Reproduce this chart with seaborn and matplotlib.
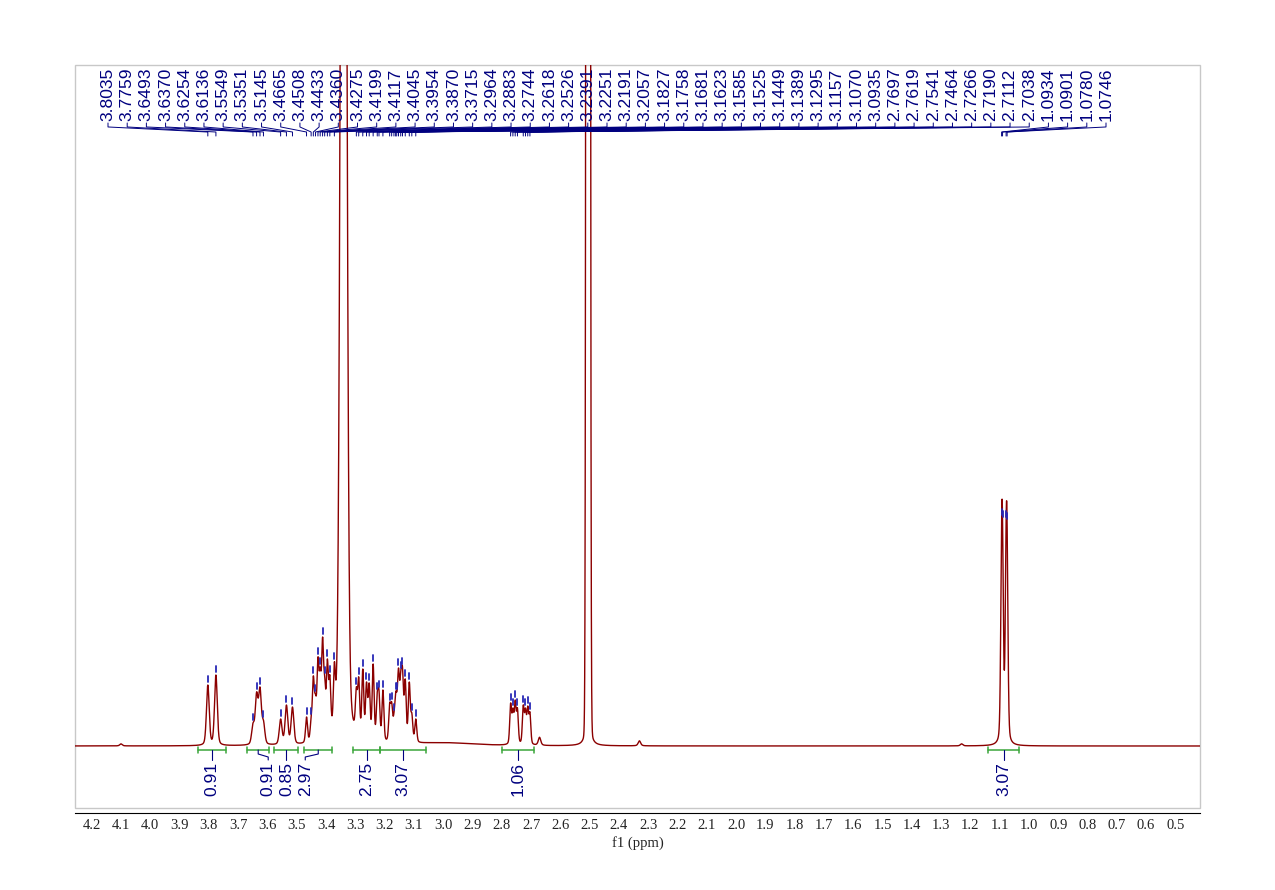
import numpy as np
import matplotlib
matplotlib.use("Agg")
import matplotlib.pyplot as plt
import matplotlib.transforms as mtransforms
from matplotlib.ticker import MultipleLocator, FuncFormatter
from matplotlib.patches import Rectangle
import seaborn as sns

sns.set_theme(style="white")
plt.rcParams["font.family"] = ["Liberation Sans", "DejaVu Sans"]

# picos marcados (ppm) e altura aparente acima da linha de base
pick_ppm = [3.8035, 3.7759, 3.6493, 3.6370, 3.6254, 3.6136, 3.5549, 3.5351, 3.5145,
            3.4665, 3.4508, 3.4433, 3.4360, 3.4275, 3.4199, 3.4117, 3.4045, 3.3954,
            3.3870, 3.3715, 3.2964, 3.2883, 3.2744, 3.2618, 3.2526, 3.2391, 3.2251,
            3.2191, 3.2057, 3.1827, 3.1758, 3.1681, 3.1623, 3.1585, 3.1525, 3.1449,
            3.1389, 3.1295, 3.1157, 3.1070, 3.0935, 2.7697, 2.7619, 2.7541, 2.7464,
            2.7266, 2.7190, 2.7112, 2.7038, 1.0934, 1.0901, 1.0780, 1.0746]
pick_height = [61, 71, 23, 54, 59, 26, 27, 41, 39,
               29, 29, 70, 52, 89, 79, 109, 70, 87,
               71, 84, 59, 69, 77, 64, 63, 82, 54,
               56, 56, 43, 44, 33, 54, 54, 78, 75,
               79, 67, 64, 33, 27, 43, 38, 46, 38,
               41, 38, 40, 34, 228, 226, 226, 224]

# solventes (agua e DMSO), fora de escala
solvent_ppm = [3.340, 2.505]
solvent_height = [1800, 12000]
solvent_fwhm = [0.020, 0.0085]
solvent_eta = [0.15, 0.01]

# pequenos sinais sem marcação
minor_ppm = [4.10, 2.671, 2.330, 1.23, 3.00]
minor_height = [2, 8, 5, 2, 3]
minor_fwhm = [0.010, 0.010, 0.010, 0.010, 0.25]

# integrais
int_start = [3.837, 3.670, 3.576, 3.475, 3.307, 3.215, 2.798, 1.139]
int_end = [3.741, 3.593, 3.494, 3.378, 3.215, 3.058, 2.690, 1.033]
int_value = ["0.91", "0.91", "0.85", "2.97", "2.75", "3.07", "1.06", "3.07"]
int_shift = [0, 10, 0, -13, 0, 0, 0, 0]  # deslocamento do rótulo em px


def pv(x, x0, h, fwhm, eta):
    g = fwhm / 2
    s = fwhm / 2.3548
    d = x - x0
    return h * (eta * g**2 / (d**2 + g**2) + (1 - eta) * np.exp(-d**2 / (2 * s**2)))


ppm = np.linspace(4.26, 0.41, 24000)
pick = np.array(pick_ppm)
# largura de linha por região
widths = np.select([pick > 3.5, pick > 3.0, pick > 2.0], [0.011, 0.0078, 0.0072], 0.0078)
eta_pick = 0.3


def background(x):
    b = np.zeros_like(x, dtype=float)
    for p, h, w, e in zip(solvent_ppm, solvent_height, solvent_fwhm, solvent_eta):
        b += pv(x, p, h, w, e)
    for p, h, w in zip(minor_ppm, minor_height, minor_fwhm):
        b += pv(x, p, h, w, 0.5)
    return b


# amplitudes (não negativas) para que a curva passe pelas alturas lidas
M = np.array([[pv(pi, pj, 1.0, wj, eta_pick) for pj, wj in zip(pick, widths)] for pi in pick])
target = np.clip(np.array(pick_height) - background(pick), 1, None)
amp = target.copy()
for _ in range(400):
    amp *= target / (M @ amp)

spec = background(ppm)
for p, a, w in zip(pick, amp, widths):
    spec += pv(ppm, p, a, w, eta_pick)

fig = plt.figure(figsize=(12.75, 8.9), dpi=100)
ax = fig.add_axes([75 / 1275, 82 / 890, 1125 / 1275, 743 / 890])
sns.lineplot(x=ppm, y=spec, color="#8b0000", lw=1.0, sort=False, estimator=None, ax=ax)
xlim = (4.257, 0.416)
ax.set_xlim(*xlim)
ax.set_ylim(-62, 681)
px_per_ppm = 1125 / (xlim[0] - xlim[1])

navy = "#00007f"
green = "#3aa63a"

# marcas dos picos
yp = np.interp(pick, ppm[::-1], spec[::-1])
for p, v in zip(pick, yp):
    ax.plot([p, p], [v + 3, v + 9], color="#2727b5", lw=1.3)

# rótulos dos picos no topo
trans = mtransforms.blended_transform_factory(ax.transData, ax.transAxes)
fr = np.linspace((108 - 75) / 1125, (1106 - 75) / 1125, len(pick_ppm))
lab_x = xlim[0] + fr * (xlim[1] - xlim[0])
for lx, p in zip(lab_x, pick_ppm):
    ax.text(lx, 0.924, f"{p:.4f}", rotation=90, ha="center", va="bottom",
            fontsize=12.6, color=navy, transform=trans)
    ax.plot([lx, lx, p, p], [0.922, 0.9166, 0.9098, 0.9044], color=navy, lw=0.7,
            transform=trans, clip_on=False)

# integrais
for a, b, val, sh in zip(int_start, int_end, int_value, int_shift):
    mid = (a + b) / 2
    lx = mid - sh / px_per_ppm
    ax.plot([a, b], [-4, -4], color=green, lw=1.1)
    ax.plot([a, a], [-1, -7], color=green, lw=1.1)
    ax.plot([b, b], [-1, -7], color=green, lw=1.1)
    ax.plot([mid, mid, lx, lx], [-4, -8, -11, -14], color=navy, lw=0.8)
    ax.text(lx, -16, val, rotation=90, ha="center", va="top", fontsize=12.6, color=navy)

# moldura e eixo
for s in ax.spines.values():
    s.set_visible(False)
ax.add_patch(Rectangle((0, 0), 1, 1, transform=ax.transAxes, fill=False,
                       ec="#c8c8c8", lw=1, clip_on=False))
ax.spines["bottom"].set_visible(True)
ax.spines["bottom"].set_color("black")
ax.spines["bottom"].set_linewidth(0.8)
ax.spines["bottom"].set_position(("outward", 3.6))
ax.set_yticks([])
ax.set_ylabel("")
ax.xaxis.set_major_locator(MultipleLocator(0.2))
ax.xaxis.set_minor_locator(MultipleLocator(0.05))
ax.xaxis.set_major_formatter(FuncFormatter(lambda v, pos: f"{v:.1f}"))
ax.xaxis.set_minor_formatter(FuncFormatter(
    lambda v, pos: f"{v:.1f}" if abs(v * 10 - round(v * 10)) < 1e-6 else ""))
ax.tick_params(axis="x", which="major", direction="out", length=3.3, width=0.8,
               pad=1.2, labelsize=10.5, labelcolor="#222222")
ax.tick_params(axis="x", which="minor", direction="out", length=1.8, width=0.8,
               pad=2.7, labelsize=10.5, labelcolor="#222222")
for t in ax.get_xticklabels(which="both"):
    t.set_family(["Liberation Serif", "DejaVu Serif"])
ax.set_xlabel("f1 (ppm)", fontsize=10.5, family=["Liberation Serif", "DejaVu Serif"],
              color="#222222", labelpad=3)

fig.savefig("out.png", dpi=100)
